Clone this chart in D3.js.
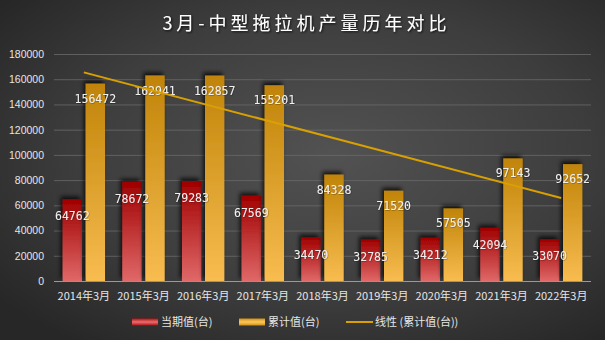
<!DOCTYPE html>
<html><head><meta charset="utf-8">
<script src="https://cdn.jsdelivr.net/npm/d3@7"></script>
<style>
html,body{margin:0;padding:0;background:#333;}
svg{display:block;}
</style></head>
<body>
<svg id="chart" width="605" height="340"></svg>
<script>
const categories = ["2014年3月","2015年3月","2016年3月","2017年3月","2018年3月","2019年3月","2020年3月","2021年3月","2022年3月"];
const currentValues = [64762,78672,79283,67569,34470,32785,34212,42094,33070];
const cumulativeValues = [156472,162941,162857,155201,84328,71520,57505,97143,92652];
const yTicks = [0,20000,40000,60000,80000,100000,120000,140000,160000,180000];
const titleText = "3月-中型拖拉机产量历年对比";
const legendLabels = ["当期值(台)","累计值(台)","线性 (累计值(台))"];

const W = 605, H = 340;
const margin = {left:54, right:14, top:54, bottom:59};
const svg = d3.select("#chart");
const defs = svg.append("defs");

// background
const bg = defs.append("radialGradient").attr("id","bg").attr("cx","55%").attr("cy","45%").attr("r","70%");
bg.append("stop").attr("offset","0%").attr("stop-color","#525252");
bg.append("stop").attr("offset","60%").attr("stop-color","#3d3d3d");
bg.append("stop").attr("offset","100%").attr("stop-color","#272727");
svg.append("rect").attr("width",W).attr("height",H).attr("fill","url(#bg)");

const gRed = defs.append("linearGradient").attr("id","gRed").attr("x1",0).attr("y1",0).attr("x2",0).attr("y2",1);
gRed.append("stop").attr("offset","0%").attr("stop-color","#a00000");
gRed.append("stop").attr("offset","100%").attr("stop-color","#e06868");
const gYel = defs.append("linearGradient").attr("id","gYel").attr("x1",0).attr("y1",0).attr("x2",0).attr("y2",1);
gYel.append("stop").attr("offset","0%").attr("stop-color","#c08408");
gYel.append("stop").attr("offset","100%").attr("stop-color","#f8bc50");
const gRedH = defs.append("linearGradient").attr("id","gRedH").attr("x1",0).attr("y1",0).attr("x2",0).attr("y2",1);
gRedH.append("stop").attr("offset","0%").attr("stop-color","#b01010");
gRedH.append("stop").attr("offset","50%").attr("stop-color","#e87070");
gRedH.append("stop").attr("offset","100%").attr("stop-color","#b01010");
const gYelH = defs.append("linearGradient").attr("id","gYelH").attr("x1",0).attr("y1",0).attr("x2",0).attr("y2",1);
gYelH.append("stop").attr("offset","0%").attr("stop-color","#d09010");
gYelH.append("stop").attr("offset","50%").attr("stop-color","#ffc860");
gYelH.append("stop").attr("offset","100%").attr("stop-color","#d09010");

const sh = defs.append("filter").attr("id","sh").attr("x","-50%").attr("y","-50%").attr("width","200%").attr("height","200%");
sh.append("feDropShadow").attr("dx",-2).attr("dy",-3).attr("stdDeviation",2.2).attr("flood-color","#000").attr("flood-opacity",0.75);
const tsh = defs.append("filter").attr("id","tsh").attr("x","-20%").attr("y","-50%").attr("width","140%").attr("height","200%");
tsh.append("feDropShadow").attr("dx",1).attr("dy",1).attr("stdDeviation",0.8).attr("flood-color","#000").attr("flood-opacity",0.8);
const lsh = defs.append("filter").attr("id","lsh").attr("x","-20%").attr("y","-50%").attr("width","140%").attr("height","200%");
lsh.append("feDropShadow").attr("dx",0.5).attr("dy",0.5).attr("stdDeviation",0.4).attr("flood-color","#000").attr("flood-opacity",0.45);

const x0 = d3.scaleBand().domain(categories).range([margin.left, W - margin.right]).paddingInner(0.29).paddingOuter(0.145);
const x1 = d3.scaleBand().domain(["cur","cum"]).range([0, x0.bandwidth()]).paddingInner(0.16);
const y = d3.scaleLinear().domain([0,180000]).range([H - margin.bottom, margin.top]);

// gridlines
const yAxis = d3.axisLeft(y).tickValues(yTicks).tickSize(-(W - margin.left - margin.right)).tickFormat(d3.format("d"));
const ga = svg.append("g").attr("transform",`translate(${margin.left},0)`).call(yAxis);
ga.select(".domain").remove();
ga.selectAll(".tick line").attr("stroke","#6a6a6a").attr("stroke-width",1).attr("opacity",0.8);
ga.selectAll(".tick").filter(d=>d===0).select("line").attr("stroke","#9a9a9a").attr("opacity",1);
ga.selectAll(".tick text").attr("x",-10).attr("fill","#e6e6e6").attr("font-size","10.5px")
  .attr("font-family","'Liberation Sans','DejaVu Sans',sans-serif");

// title
svg.append("text").attr("x",W/2+4).attr("y",30).attr("text-anchor","middle")
  .attr("fill","#ffffff").attr("font-size","18px").attr("font-weight","normal").attr("letter-spacing","4px")
  .attr("font-family","'Noto Sans CJK SC',sans-serif").attr("filter","url(#tsh)").text(titleText);

// bars
const groups = svg.append("g").selectAll("g").data(categories).join("g")
  .attr("transform", d => `translate(${x0(d)},0)`);
groups.append("rect").attr("x",x1("cur")).attr("width",x1.bandwidth())
  .attr("y",(d,i)=>y(currentValues[i])).attr("height",(d,i)=>y(0)-y(currentValues[i]))
  .attr("fill","url(#gRed)").attr("filter","url(#sh)");
groups.append("rect").attr("x",x1("cum")).attr("width",x1.bandwidth())
  .attr("y",(d,i)=>y(cumulativeValues[i])).attr("height",(d,i)=>y(0)-y(cumulativeValues[i]))
  .attr("fill","url(#gYel)").attr("filter","url(#sh)");

// trend line (least squares fit of cumulative values, as in the original chart)
const n = cumulativeValues.length;
const xs = d3.range(1, n+1);
const mx = d3.mean(xs), my = d3.mean(cumulativeValues);
const slope = d3.sum(xs.map((xv,i)=>(xv-mx)*(cumulativeValues[i]-my))) / d3.sum(xs.map(xv=>(xv-mx)*(xv-mx)));
const icpt = my - slope*mx;
const cx = d => x0(d) + x0.bandwidth()/2;
svg.append("line")
  .attr("x1", cx(categories[0])).attr("y1", y(icpt + slope*1))
  .attr("x2", cx(categories[n-1])).attr("y2", y(icpt + slope*n))
  .attr("stroke","#d9a000").attr("stroke-width",2);

// value labels
const lblFont = "'DejaVu Sans Mono','Liberation Mono',monospace";
groups.append("text").attr("x",x1("cur")+x1.bandwidth()/2).attr("y",(d,i)=>y(currentValues[i])+21)
  .attr("text-anchor","middle").attr("fill","#f0f0f0").attr("font-size","11.5px").attr("font-family",lblFont)
  .attr("filter","url(#lsh)").text((d,i)=>currentValues[i]);
groups.append("text").attr("x",x1("cum")+x1.bandwidth()/2).attr("y",(d,i)=>y(cumulativeValues[i])+19)
  .attr("text-anchor","middle").attr("fill","#f0f0f0").attr("font-size","11.5px").attr("font-family",lblFont)
  .attr("filter","url(#lsh)").text((d,i)=>cumulativeValues[i]);

// x labels
svg.append("g").selectAll("text").data(categories).join("text")
  .attr("x", d=>cx(d)).attr("y", y(0)+19).attr("text-anchor","middle")
  .attr("fill","#e6e6e6").attr("font-size","11px").attr("font-family","'Noto Sans CJK SC',sans-serif").text(d=>d);

// legend
const ly = 322;
const leg = svg.append("g");
const items = [
  {x:132, type:"rect", fill:"url(#gRedH)", label:legendLabels[0]},
  {x:239, type:"rect", fill:"url(#gYelH)", label:legendLabels[1]},
  {x:346, type:"line", label:legendLabels[2]}
];
items.forEach(it=>{
  if(it.type==="rect"){
    leg.append("rect").attr("x",it.x).attr("y",ly-3.5).attr("width",26).attr("height",7).attr("fill",it.fill);
  } else {
    leg.append("line").attr("x1",it.x).attr("x2",it.x+27).attr("y1",ly).attr("y2",ly).attr("stroke","#d9a000").attr("stroke-width",2);
  }
  leg.append("text").attr("x",it.x+29).attr("y",ly+4).attr("fill","#e6e6e6").attr("font-size","11px")
    .attr("font-family","'Noto Sans CJK SC',sans-serif").text(it.label);
});
</script>
</body></html>
